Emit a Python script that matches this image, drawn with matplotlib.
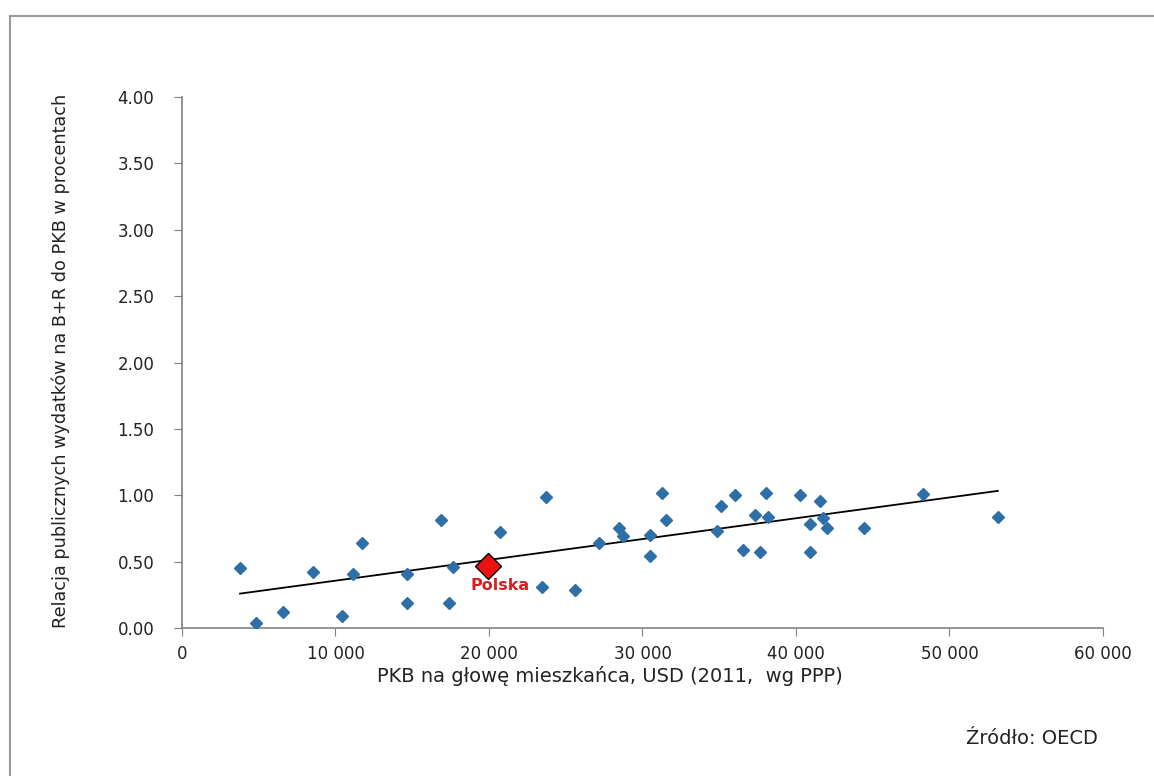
import matplotlib.pyplot as plt
import numpy as np

plt.rcParams["font.family"] = ["DejaVu Sans"]

# PKB per capita (USD, PPP 2011) and public R&D spending as % of GDP
gdp = [3780, 4820, 6580, 8530, 10420, 11130, 11730, 14660, 14660, 16870,
       17390, 17650, 20720, 23710, 23450, 25600, 27170, 28470, 28730, 30490,
       30490, 31270, 31530, 34850, 35110, 36030, 36550, 37330, 37650, 38040,
       38170, 40260, 41560, 40910, 41760, 42020, 44430, 40910, 48270, 53150]
rd = [0.45, 0.04, 0.12, 0.42, 0.09, 0.41, 0.64, 0.41, 0.19, 0.81,
      0.19, 0.46, 0.72, 0.99, 0.31, 0.29, 0.64, 0.75, 0.69, 0.70,
      0.54, 1.02, 0.81, 0.73, 0.92, 1.00, 0.59, 0.85, 0.57, 1.02,
      0.84, 1.00, 0.96, 0.78, 0.83, 0.75, 0.75, 0.57, 1.01, 0.84]
poland_gdp = 19930
poland_rd = 0.47

x_ticks = [0, 10000, 20000, 30000, 40000, 50000, 60000]
y_ticks = [0.0, 0.5, 1.0, 1.5, 2.0, 2.5, 3.0, 3.5, 4.0]

fig = plt.figure(figsize=(11.54, 7.76), dpi=100)
ax = fig.add_axes([0.1577, 0.1907, 0.7981, 0.6843])

# outer frame lines (top + left) like the original screenshot
fig.add_artist(plt.Line2D([10 / 1154, 1], [1 - 16 / 776, 1 - 16 / 776],
                          color="#9a9a9a", lw=1.5, transform=fig.transFigure))
fig.add_artist(plt.Line2D([10 / 1154, 10 / 1154], [0, 1 - 16 / 776],
                          color="#9a9a9a", lw=1.5, transform=fig.transFigure))

# linear trend over all countries
all_x = np.array(gdp + [poland_gdp])
all_y = np.array(rd + [poland_rd])
slope, intercept = np.polyfit(all_x, all_y, 1)
xs = np.array([all_x.min(), all_x.max()])
ax.plot(xs, slope * xs + intercept, color="black", lw=1.3, zorder=2)

ax.plot(gdp, rd, linestyle="none", marker="D", markersize=6.5,
        color="#2f6fa8", markeredgecolor="#2f6fa8", zorder=3)
ax.plot([poland_gdp], [poland_rd], linestyle="none", marker="D", markersize=13,
        color="#ee1111", markeredgecolor="black", markeredgewidth=1, zorder=4)
ax.annotate("Polska", (poland_gdp, poland_rd), xytext=(9, -14),
            textcoords="offset points", color="#d42020", fontweight="bold",
            fontsize=11.5, ha="center", va="center")

ax.set_xlim(0, 60000)
ax.set_ylim(0, 4)
ax.set_xticks(x_ticks)
ax.set_xticklabels([f"{v:,}".replace(",", " ") for v in x_ticks])
ax.set_yticks(y_ticks)
ax.set_yticklabels([f"{v:.2f}" for v in y_ticks])
ax.tick_params(axis="both", direction="out", length=6, color="#808080",
               labelsize=12, labelcolor="#222222", pad=14)
ax.tick_params(axis="x", pad=6)

for side in ["top", "right"]:
    ax.spines[side].set_visible(False)
for side in ["left", "bottom"]:
    ax.spines[side].set_color("#808080")
    ax.spines[side].set_linewidth(1.2)

ax.set_xlabel("PKB na głowę mieszkańca, USD (2011,  wg PPP)", fontsize=14,
              color="#222222")
ax.xaxis.set_label_coords(0.465, -0.072)
ax.set_ylabel("Relacja publicznych wydatków na B+R do PKB w procentach",
              fontsize=12.7, color="#222222")
ax.yaxis.set_label_coords(-0.1216, 0.503)

fig.text(1098 / 1154, 1 - 738 / 776, "Źródło: OECD", fontsize=14,
         color="#222222", ha="right", va="center")

fig.savefig("out.png", dpi=100)
